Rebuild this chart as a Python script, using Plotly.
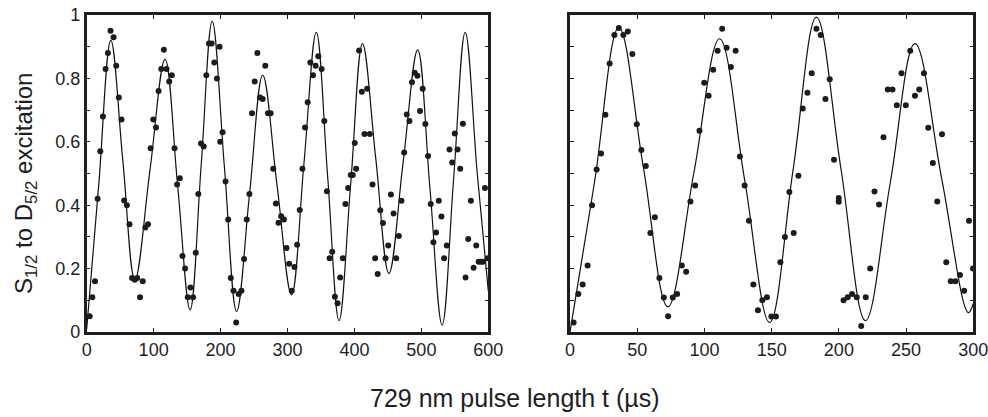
import plotly.graph_objects as go

# ---------------- data ----------------
# Left panel: measured points
left_t = [4.5, 8.4, 12.4, 16.3, 20.3, 24.3, 28.2, 31.7, 35.6, 40.1, 44.1, 48, 52, 56, 60, 63.9,
          67.8, 71.8, 75.5, 79.7, 83.7, 87.6, 91.6, 95.5, 99.5, 103.5, 107.4, 111.4, 115.3, 119.3,
          123.3, 127.2, 131.2, 135.1, 139.1, 143.1, 147, 151, 155, 158.9, 162.9, 166.8, 170.8,
          174.8, 178.7, 182.7, 186.6, 190.6, 194.6, 198.5, 199.5, 203, 207.4, 211.4, 215.3, 219.3,
          223.3, 227.2, 231.2, 235.1, 239.1, 243.1, 247, 251, 254.9, 258.9, 262.9, 266.8, 270.8,
          274.8, 278.7, 282.7, 286.6, 290.6, 294.6, 298.5, 302.5, 306.4, 310.4, 314.4, 318.3,
          322.3, 326.2, 330.2, 334.2, 338.1, 342, 346, 351, 355, 358.9, 362.9, 366.8, 370.8,
          374.8, 378.7, 382.7, 386.6, 390.6, 394.6, 397.5, 400.5, 402.5, 407, 411, 415, 419, 423,
          427, 431, 434.7, 438.6, 442.6, 446.5, 450.5, 454.5, 458.4, 462.4, 466.3, 470.3, 474.3,
          478.2, 482.2, 486, 490, 494, 498, 502, 506, 510, 514, 518, 522, 526, 530, 534, 538,
          542, 546, 550, 554, 558, 562, 566, 570, 574, 578, 582, 585.6, 589, 592, 595, 599]
left_p = [0.05, 0.11, 0.16, 0.42, 0.57, 0.68, 0.83, 0.88, 0.95, 0.93, 0.84, 0.74, 0.67, 0.415, 0.40,
          0.34, 0.17, 0.165, 0.17, 0.11, 0.16, 0.33, 0.34, 0.58, 0.67, 0.645, 0.76, 0.83, 0.89,
          0.83, 0.79, 0.81, 0.58, 0.465, 0.485, 0.24, 0.20, 0.11, 0.14, 0.11, 0.25, 0.435, 0.595,
          0.585, 0.81, 0.91, 0.91, 0.85, 0.80, 0.90, 0.60, 0.63, 0.475, 0.355, 0.17, 0.13, 0.03,
          0.12, 0.13, 0.23, 0.355, 0.435, 0.69, 0.79, 0.88, 0.74, 0.735, 0.84, 0.69, 0.69, 0.515,
          0.405, 0.345, 0.365, 0.355, 0.265, 0.215, 0.13, 0.205, 0.275, 0.385, 0.515, 0.645,
          0.725, 0.85, 0.81, 0.84, 0.87, 0.83, 0.666, 0.444, 0.233, 0.253, 0.111, 0.091, 0.172,
          0.233, 0.404, 0.454, 0.495, 0.495, 0.596, 0.515, 0.888, 0.758, 0.625, 0.767, 0.625,
          0.465, 0.233, 0.183, 0.384, 0.344, 0.233, 0.273, 0.434, 0.374, 0.233, 0.303, 0.414,
          0.566, 0.686, 0.666, 0.788, 0.818, 0.808, 0.697, 0.767, 0.656, 0.555, 0.404, 0.283,
          0.314, 0.414, 0.364, 0.233, 0.273, 0.576, 0.535, 0.626, 0.576, 0.515, 0.657, 0.172,
          0.293, 0.414, 0.203, 0.273, 0.222, 0.222, 0.222, 0.454, 0.233]

# Left panel: fitted curve (extrema and mid-level crossings)
left_fit_t = [0, 18, 36, 54, 72, 94.5, 117, 135.75, 154.5, 171, 187.5, 205.75, 224, 243.5, 263,
              284.5, 306, 324.5, 343, 360, 377, 394.5, 412, 431.75, 451.5, 473, 494.5, 512.75,
              531, 548.25, 565.5, 583.5, 600]
left_fit_p = [0.01, 0.465, 0.92, 0.54, 0.165, 0.51, 0.86, 0.465, 0.07, 0.525, 0.98, 0.52, 0.065,
              0.44, 0.81, 0.46, 0.117, 0.53, 0.945, 0.49, 0.036, 0.47, 0.91, 0.55, 0.185, 0.54,
              0.89, 0.455, 0.022, 0.485, 0.945, 0.5, 0.13]

# Right panel: measured points
right_t = [2.7, 6.2, 9.4, 13.1, 16.4, 19.8, 23.1, 26.3, 29.5, 33, 36.3, 39.7, 43, 46.4, 49.7, 53.1,
           56.4, 59.8, 63.1, 66.5, 69.8, 73, 76.5, 79.7, 83.2, 86.4, 89.6, 93.1, 96.3, 99.8,
           103.1, 106.5, 109.8, 113.2, 116.5, 119.7, 123.2, 126.4, 129.9, 133.1, 136.4, 139.8,
           143.1, 146.5, 149.8, 153.2, 156.5, 159.9, 163.2, 166.4, 169.9, 173.1, 176.6, 179.8,
           183.3, 186.5, 190, 193.2, 196.4, 199.9, 199.9, 203.5, 206.6, 209.8, 213.3, 216.6, 220,
           223.3, 226.5, 229.9, 233.2, 236.4, 239.9, 243.1, 246.6, 249.8, 253.1, 256.6, 259.8,
           263.3, 266.5, 269.9, 273.2, 276.7, 279.9, 283.2, 286.6, 290.1, 293.2, 296.8, 299.8]
right_p = [0.03, 0.12, 0.15, 0.21, 0.40, 0.513, 0.563, 0.685, 0.847, 0.937, 0.959, 0.937, 0.948,
           0.877, 0.655, 0.574, 0.524, 0.312, 0.362, 0.17, 0.109, 0.05, 0.109, 0.12, 0.21, 0.19,
           0.412, 0.462, 0.635, 0.786, 0.745, 0.827, 0.887, 0.957, 0.897, 0.836, 0.887, 0.554,
           0.462, 0.351, 0.15, 0.069, 0.1, 0.11, 0.049, 0.049, 0.22, 0.30, 0.442, 0.312, 0.493,
           0.705, 0.755, 0.816, 0.957, 0.937, 0.735, 0.797, 0.543, 0.423, 0.411, 0.1, 0.11, 0.12,
           0.11, 0.019, 0.11, 0.2, 0.443, 0.402, 0.614, 0.765, 0.765, 0.715, 0.816, 0.715, 0.887,
           0.745, 0.765, 0.816, 0.644, 0.533, 0.412, 0.624, 0.22, 0.16, 0.16, 0.18, 0.13, 0.351,
           0.2]

# Right panel: fitted curve
right_fit_t = [0, 18.15, 36.3, 54.55, 72.8, 92.05, 111.3, 129.9, 148.5, 165.9, 183.3, 201.55,
               219.8, 238.2, 256.6, 276.45, 296.3, 300]
right_fit_p = [0.0, 0.47, 0.96, 0.52, 0.08, 0.50, 0.925, 0.48, 0.03, 0.51, 0.993, 0.515, 0.036,
               0.47, 0.91, 0.485, 0.061, 0.09]

left_xticks = [0, 100, 200, 300, 400, 500, 600]
right_xticks = [0, 50, 100, 150, 200, 250, 300]
y_ticks = [0, 0.2, 0.4, 0.6, 0.8, 1.0]
y_ticktext = ["0", "0.2", "0.4", "0.6", "0.8", "1"]

y_title = "S<sub>1/2</sub> to D<sub>5/2</sub> excitation"
x_title = "729 nm pulse length t (µs)"

# ---------------- figure ----------------
W, H = 988, 417
FONT = "Liberation Sans, Arial, Helvetica, sans-serif"
INK = "#1e1e1e"

fig = go.Figure()
marker = dict(size=6, color="#1c1c1c")
line = dict(color="#111111", width=1.2, shape="spline", smoothing=1.1)

fig.add_trace(go.Scatter(x=left_fit_t, y=left_fit_p, mode="lines", line=line,
                         xaxis="x", yaxis="y", showlegend=False, hoverinfo="skip"))
fig.add_trace(go.Scatter(x=left_t, y=left_p, mode="markers", marker=marker,
                         xaxis="x", yaxis="y", showlegend=False))
fig.add_trace(go.Scatter(x=right_fit_t, y=right_fit_p, mode="lines", line=line,
                         xaxis="x2", yaxis="y2", showlegend=False, hoverinfo="skip"))
fig.add_trace(go.Scatter(x=right_t, y=right_p, mode="markers", marker=marker,
                         xaxis="x2", yaxis="y2", showlegend=False))

def px_x(p):
    return p / W

def px_y(p):
    return (H - p) / H

ydom = [px_y(332), px_y(15)]
axis_common = dict(showline=True, linecolor=INK, linewidth=2.5, mirror="allticks",
                   ticks="inside", ticklen=4, tickwidth=1, tickcolor=INK,
                   showgrid=False, zeroline=False, automargin=False,
                   ticklabeloverflow="allow",
                   tickfont=dict(family=FONT, size=18, color=INK))
y_minor = dict(ticks="inside", dtick=0.1, tick0=0, ticklen=4, tickwidth=1, tickcolor=INK,
               showgrid=False)

fig.update_layout(
    width=W, height=H,
    margin=dict(l=0, r=0, t=0, b=0),
    paper_bgcolor="white", plot_bgcolor="white",
    font=dict(family=FONT, color=INK),
    xaxis=dict(domain=[px_x(86.7), px_x(488.3)], range=[0, 600], tickvals=left_xticks,
               anchor="y", **axis_common),
    yaxis=dict(domain=ydom, range=[0, 1], tickvals=y_ticks, ticktext=y_ticktext,
               minor=y_minor, anchor="x", **axis_common),
    xaxis2=dict(domain=[px_x(570), px_x(973.3)], range=[0, 300], tickvals=right_xticks,
                anchor="y2", **axis_common),
    yaxis2=dict(domain=ydom, range=[0, 1], tickvals=y_ticks, showticklabels=False,
                minor=y_minor, anchor="x2", **axis_common),
    annotations=[
        dict(text=x_title, x=px_x(515), y=px_y(398), xref="paper", yref="paper",
             showarrow=False, xanchor="center", yanchor="middle",
             font=dict(family=FONT, size=25, color=INK)),
        dict(text=y_title, x=px_x(25), y=px_y(184), xref="paper", yref="paper",
             showarrow=False, xanchor="center", yanchor="middle", textangle=-90,
             font=dict(family=FONT, size=24, color=INK)),
    ],
)

fig.write_html(
    "out.html",
    config={"displayModeBar": False},
    post_script="document.body.style.margin='0';document.body.style.padding='0';"
                "document.body.style.overflow='hidden';",
)
